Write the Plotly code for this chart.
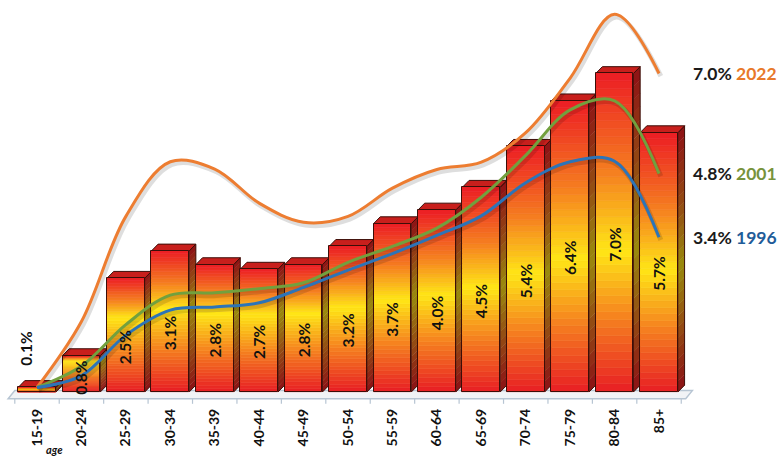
import plotly.graph_objects as go

# ---------------- data ----------------
age_groups = ["15-19", "20-24", "25-29", "30-34", "35-39", "40-44", "45-49",
              "50-54", "55-59", "60-64", "65-69", "70-74", "75-79", "80-84", "85+"]
bar_share = [0.1, 0.8, 2.5, 3.1, 2.8, 2.7, 2.8, 3.2, 3.7, 4.0, 4.5, 5.4, 6.4, 7.0, 5.7]
line_2022 = [0.1, 1.55, 3.86, 5.06, 4.9, 4.15, 3.73, 3.86, 4.48, 4.89, 5.05, 5.7, 6.9, 8.3, 7.0]
line_2001 = [0.1, 0.57, 1.48, 2.13, 2.18, 2.27, 2.4, 2.85, 3.2, 3.6, 4.28, 5.2, 6.2, 6.4, 4.8]
line_1996 = [0.1, 0.36, 1.25, 1.8, 1.87, 1.96, 2.3, 2.68, 3.04, 3.44, 3.87, 4.6, 5.06, 5.07, 3.4]
series_years = ["2022", "2001", "1996"]
axis_title = "age"

# ---------------- style ----------------
FONT = "Lato"
W = 0.85      # front face width (category units)
DX = 0.15     # depth offset x
DY = 0.15     # depth offset y (% units)
N = 40        # gradient slices front
NS = 24       # gradient slices side
RED = (232, 30, 36)
RED_TOP = (236, 28, 36)
ORANGE = (245, 125, 32)
YELLOW = (255, 230, 22)
line_colors = ["#ed7d31", "#72a03e", "#2c74b8"]
label_colors = ["#e8792a", "#77933c", "#1f5c99"]

def lerp(c1, c2, t):
    return tuple(c1[j] + (c2[j] - c1[j]) * t for j in range(3))

def grad(t, ty):
    stops = [(0.0, RED), (ty * 0.5, ORANGE), (ty, YELLOW),
             (ty + (1 - ty) * 0.45, ORANGE), (1.0, RED_TOP)]
    for a, b in zip(stops[:-1], stops[1:]):
        if a[0] <= t <= b[0]:
            f = 0 if b[0] == a[0] else (t - a[0]) / (b[0] - a[0])
            return lerp(a[1], b[1], f)
    return RED_TOP

def rgb(c, k=1.0):
    return "rgb(%d,%d,%d)" % tuple(max(0, min(255, int(round(v * k)))) for v in c)

def yellow_pos(v):
    return min(0.85, (0.8 + 0.33 * v) / v)

idx = list(range(len(age_groups)))
fig = go.Figure()
shapes = []

# floor
f0 = -0.15
f1 = f0 + 0.18
xl, xr = -0.65, 14.6
shapes.append(dict(type="path", xref="x", yref="y", layer="below",
                   path=f"M {xl},{f0} L {xr},{f0} L {xr+DX},{f1} L {xl+DX},{f1} Z",
                   fillcolor="#f1f3f6", line=dict(color="#b7c5d3", width=1.5)))
for i in range(len(age_groups) + 1):
    xt = -0.5 + i
    shapes.append(dict(type="line", xref="x", yref="y", layer="below",
                       x0=xt, x1=xt, y0=f0, y1=f0 - 0.11,
                       line=dict(color="#b7c5d3", width=1.2)))

# side and top faces
for i, v in enumerate(bar_share):
    x1 = i + W / 2
    ty = yellow_pos(v)
    for k in range(NS):
        y0 = v * k / NS
        y1 = v * (k + 1) / NS
        c = grad((k + 0.5) / NS, ty)
        shapes.append(dict(type="path", xref="x", yref="y", layer="below",
                           path=f"M {x1},{y0} L {x1+DX},{y0+DY} L {x1+DX},{y1+DY+0.01} L {x1},{y1+0.01} Z",
                           fillcolor=rgb(c, 0.6), line=dict(width=0)))
    shapes.append(dict(type="path", xref="x", yref="y", layer="below",
                       path=f"M {x1},0 L {x1+DX},{DY} L {x1+DX},{v+DY} L {x1},{v} Z",
                       fillcolor="rgba(0,0,0,0)", line=dict(color="#3c0e08", width=1)))
    x0 = i - W / 2
    shapes.append(dict(type="path", xref="x", yref="y", layer="below",
                       path=f"M {x0},{v} L {x0+DX},{v+DY} L {x1+DX},{v+DY} L {x1},{v} Z",
                       fillcolor="#c81f1c", line=dict(color="#3c0e08", width=1)))

# front faces: gradient slices
for k in range(N):
    cols = [rgb(grad((k + 0.5) / N, yellow_pos(v))) for v in bar_share]
    fig.add_trace(go.Bar(x=idx, y=[v / N for v in bar_share],
                         base=[v * k / N for v in bar_share], width=W,
                         marker=dict(color=cols, line=dict(color=cols, width=0.6)),
                         hoverinfo="skip", showlegend=False))
# outline
fig.add_trace(go.Bar(x=idx, y=bar_share, width=W,
                     marker=dict(color="rgba(0,0,0,0)", line=dict(color="#3c0e08", width=1)),
                     hoverinfo="skip", showlegend=False))

# lines (shadow + line)
for vals, col, yr in zip([line_2022, line_2001, line_1996], line_colors, series_years):
    fig.add_trace(go.Scatter(x=[x + 0.04 for x in idx], y=[v - 0.06 for v in vals],
                             mode="lines", line=dict(color="rgba(0,0,0,0.13)", width=5,
                                                     shape="spline", smoothing=1.0),
                             hoverinfo="skip", showlegend=False))
    fig.add_trace(go.Scatter(x=idx, y=vals, mode="lines", name=yr,
                             line=dict(color=col, width=3, shape="spline", smoothing=1.0),
                             showlegend=False))

annotations = []
# value labels on bars
for i, v in enumerate(bar_share):
    if v < 0.5:
        yc, xs = v + 0.85, -11
    else:
        yc, xs = max(v / 2 - 0.25, 0.32), 0
    annotations.append(dict(x=i, y=yc, xref="x", yref="y", text=f"<b>{v:.1f}%</b>",
                            textangle=-90, showarrow=False, xshift=xs,
                            font=dict(family=FONT, size=15.5, color="#111111"),
                            xanchor="center", yanchor="middle"))

# series end labels
for vals, yr, lc in zip([line_2022, line_2001, line_1996], series_years, label_colors):
    annotations.append(dict(x=idx[-1], y=vals[-1], xref="x", yref="y",
                            text=f"<b>{vals[-1]:.1f}% <span style='color:{lc}'>{yr}</span></b>",
                            showarrow=False, xanchor="left", yanchor="middle", xshift=32,
                            font=dict(family=FONT, size=17.5, color="#1a1a1a")))

# axis title
annotations.append(dict(x=54 / 781, y=(404 - 449) / 404, xref="paper", yref="paper",
                        text=f"<b><i>{axis_title}</i></b>", showarrow=False,
                        xanchor="center", yanchor="middle",
                        font=dict(family=FONT, size=11, color="#111111")))

fig.update_layout(
    width=781, height=456,
    margin=dict(l=0, r=0, t=0, b=52),
    paper_bgcolor="white", plot_bgcolor="white",
    barmode="overlay", bargap=0,
    shapes=shapes, annotations=annotations,
    font=dict(family=FONT),
)
fig.update_xaxes(range=[-0.833, 16.745], tickvals=idx,
                 ticktext=[f"<b>{a}</b>" for a in age_groups],
                 tickangle=-90, tickfont=dict(family=FONT, size=14, color="#111111"),
                 showgrid=False, zeroline=False, showline=False, ticks="",
                 ticklabelstandoff=1)
fig.update_yaxes(range=[-0.264, 8.615], visible=False, showgrid=False, zeroline=False)

fig.write_html("out.html")
